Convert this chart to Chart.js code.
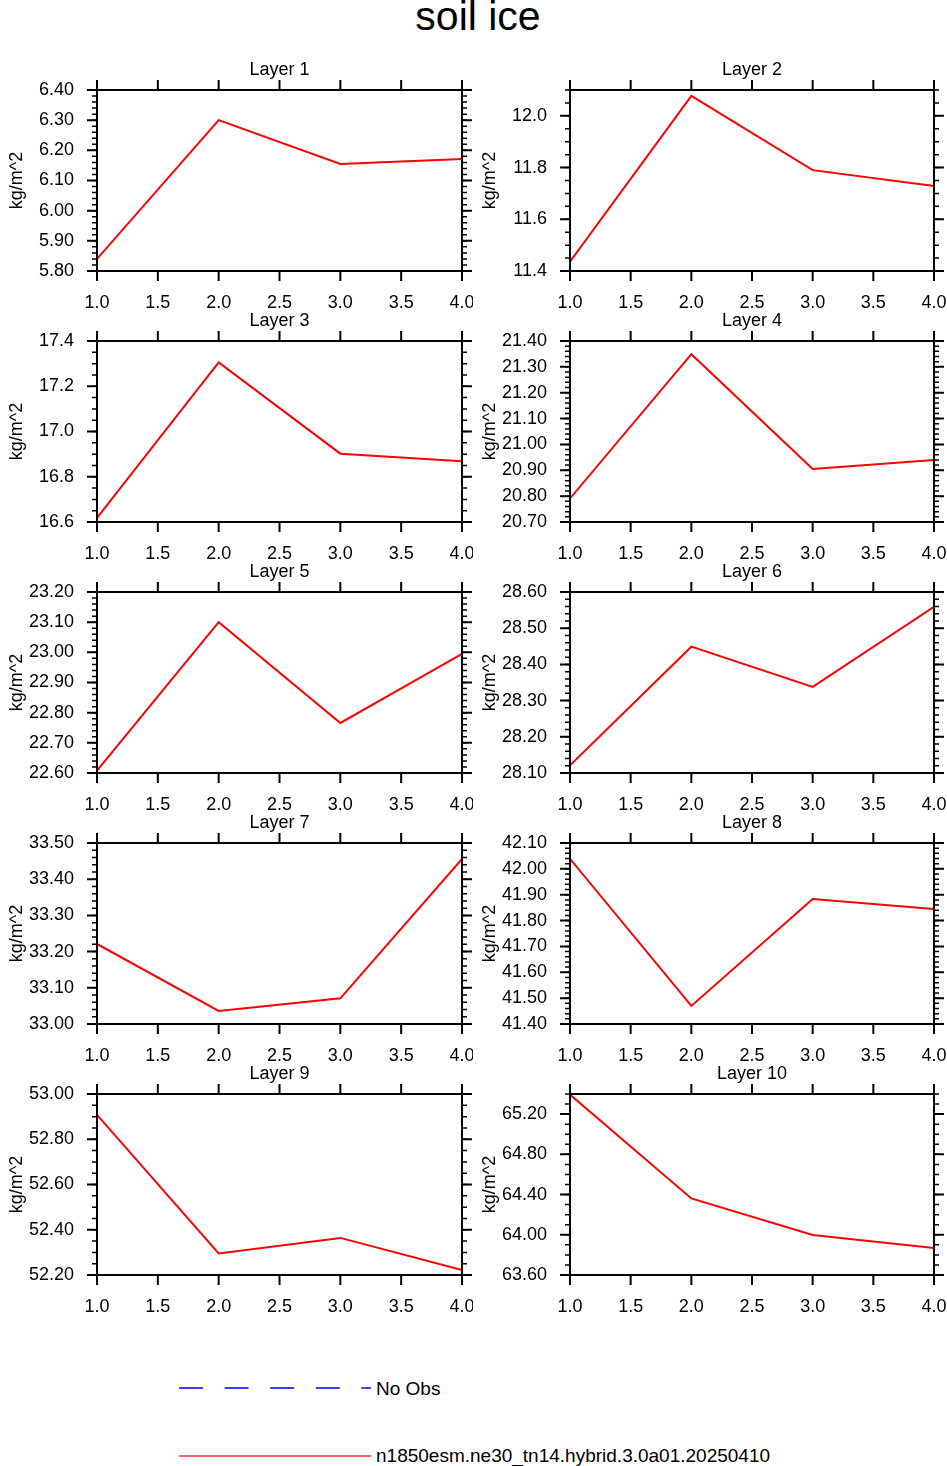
<!DOCTYPE html>
<html>
<head>
<meta charset="utf-8">
<title>soil ice</title>
<script src="https://cdn.jsdelivr.net/npm/chart.js@4/dist/chart.umd.min.js"></script>
<style>
  html, body { margin: 0; padding: 0; background: #fff; }
  body { position: relative; width: 947px; height: 1466px; overflow: hidden;
         font-family: "Liberation Sans", Arial, Helvetica, sans-serif; }
  #mainTitle { position: absolute; left: 0; top: -4px; width: 956px; text-align: center;
               font-size: 41px; line-height: 41px; color: #000; }
  canvas { position: absolute; }
  #legend { position: absolute; left: 0; top: 1360px; overflow: visible; }
</style>
</head>
<body>
<div id="mainTitle">soil ice</div>
<div id="panels"></div>
<svg id="legend" width="947" height="106">
  <line x1="179" y1="28" x2="371" y2="28" stroke="#3c3cff" stroke-width="2" stroke-dasharray="24 21.6"/>
  <text x="376" y="28" dominant-baseline="central" font-size="19" font-family="Liberation Sans, Arial, sans-serif">No Obs</text>
  <line x1="179" y1="96" x2="371" y2="96" stroke="#ff3030" stroke-width="1.5"/>
  <text x="376" y="95" dominant-baseline="central" font-size="19" font-family="Liberation Sans, Arial, sans-serif">n1850esm.ne30_tn14.hybrid.3.0a01.20250410</text>
</svg>
<script>
// soil ice - 10 lớp, mỗi lớp một biểu đồ

const xValues = [1, 2, 3, 4];
const xTicks = [1.0, 1.5, 2.0, 2.5, 3.0, 3.5, 4.0];
const layerTitles = ['Layer 1', 'Layer 2', 'Layer 3', 'Layer 4', 'Layer 5',
                     'Layer 6', 'Layer 7', 'Layer 8', 'Layer 9', 'Layer 10'];

// giá trị (kg/m^2)
const layer1 = [5.840, 6.300, 6.155, 6.171];
const layer2 = [11.436, 12.077, 11.790, 11.729];
const layer3 = [16.618, 17.305, 16.902, 16.868];
const layer4 = [20.791, 21.349, 20.905, 20.940];
const layer5 = [22.608, 23.100, 22.766, 22.995];
const layer6 = [28.121, 28.449, 28.338, 28.559];
const layer7 = [33.221, 33.036, 33.071, 33.456];
const layer8 = [42.039, 41.470, 41.883, 41.845];
const layer9 = [52.908, 52.295, 52.364, 52.222];
const layer10 = [65.394, 64.361, 63.997, 63.869];
const layerValues = [layer1, layer2, layer3, layer4, layer5,
                     layer6, layer7, layer8, layer9, layer10];

// nhãn trục y
const yTicks1 = [5.80, 5.90, 6.00, 6.10, 6.20, 6.30, 6.40];
const yTicks2 = [11.4, 11.6, 11.8, 12.0];
const yTicks3 = [16.6, 16.8, 17.0, 17.2, 17.4];
const yTicks4 = [20.70, 20.80, 20.90, 21.00, 21.10, 21.20, 21.30, 21.40];
const yTicks5 = [22.60, 22.70, 22.80, 22.90, 23.00, 23.10, 23.20];
const yTicks6 = [28.10, 28.20, 28.30, 28.40, 28.50, 28.60];
const yTicks7 = [33.00, 33.10, 33.20, 33.30, 33.40, 33.50];
const yTicks8 = [41.40, 41.50, 41.60, 41.70, 41.80, 41.90, 42.00, 42.10];
const yTicks9 = [52.20, 52.40, 52.60, 52.80, 53.00];
const yTicks10 = [63.60, 64.00, 64.40, 64.80, 65.20];
const layerTicks = [yTicks1, yTicks2, yTicks3, yTicks4, yTicks5,
                    yTicks6, yTicks7, yTicks8, yTicks9, yTicks10];

const yMin = [5.80, 11.4, 16.6, 20.70, 22.60, 28.10, 33.00, 41.40, 52.20, 63.60];
const yMax = [6.40, 12.1, 17.4, 21.40, 23.20, 28.60, 33.50, 42.10, 53.00, 65.40];
const yMinorStep = [0.02, 0.05, 0.05, 0.02, 0.02, 0.02, 0.02, 0.02, 0.05, 0.1];
const yDecimals = [2, 1, 1, 2, 2, 2, 2, 2, 2, 2];

Chart.defaults.font.family = '"Liberation Sans", Arial, Helvetica, sans-serif';
Chart.defaults.color = '#000';

const FONT = { size: 18, weight: 'normal' };

// vẽ khung và vạch chia (chính + phụ) hướng ra ngoài
const boxTicks = {
    id: 'boxTicks',
    afterDraw(chart, args, opts) {
        const { ctx, chartArea: a, scales: { x, y } } = chart;
        ctx.save();
        ctx.strokeStyle = '#000';
        ctx.lineCap = 'butt';

        // vạch phụ trục y
        ctx.lineWidth = 1.5;
        ctx.beginPath();
        const n = Math.round((y.max - y.min) / opts.minor);
        for (let i = 0; i <= n; i++) {
            const py = y.getPixelForValue(y.min + i * opts.minor);
            ctx.moveTo(a.left, py); ctx.lineTo(a.left - 5, py);
            ctx.moveTo(a.right, py); ctx.lineTo(a.right + 5, py);
        }
        ctx.stroke();

        // vạch chính
        ctx.lineWidth = 2;
        ctx.beginPath();
        y.ticks.forEach(t => {
            const py = y.getPixelForValue(t.value);
            ctx.moveTo(a.left, py); ctx.lineTo(a.left - 10, py);
            ctx.moveTo(a.right, py); ctx.lineTo(a.right + 10, py);
        });
        x.ticks.forEach(t => {
            const px = x.getPixelForValue(t.value);
            ctx.moveTo(px, a.bottom); ctx.lineTo(px, a.bottom + 10);
            ctx.moveTo(px, a.top); ctx.lineTo(px, a.top - 10);
        });
        ctx.stroke();

        ctx.strokeRect(a.left, a.top, a.right - a.left, a.bottom - a.top);
        ctx.restore();
    }
};

const rowTops = [90, 341, 592, 843, 1094];
const PLOT_H = 181;
const TOP_SPACE = 34;
const BOTTOM_SPACE = 40;

function initLayerChart(i) {
    const row = Math.floor(i / 2);
    const col = i % 2;
    const canvas = document.createElement('canvas');
    const left = col === 0 ? 0 : 473;
    const width = col === 0 ? 473 : 474;
    const height = TOP_SPACE + PLOT_H + BOTTOM_SPACE;
    canvas.width = width;
    canvas.height = height;
    canvas.style.left = left + 'px';
    canvas.style.top = (rowTops[row] - TOP_SPACE) + 'px';
    canvas.style.width = width + 'px';
    canvas.style.height = height + 'px';
    document.getElementById('panels').appendChild(canvas);

    const vals = layerValues[i];
    const ticks = layerTicks[i];
    const dec = yDecimals[i];

    new Chart(canvas, {
        type: 'line',
        data: {
            datasets: [{
                data: xValues.map((x, k) => ({ x: x, y: vals[k] })),
                borderColor: '#ff0000',
                borderWidth: 2,
                pointRadius: 0,
                tension: 0
            }]
        },
        options: {
            responsive: false,
            animation: false,
            devicePixelRatio: 1,
            layout: { padding: { left: 0, right: col === 0 ? 11 : 13, top: 0, bottom: 0 } },
            plugins: {
                legend: { display: false },
                tooltip: { enabled: false },
                title: {
                    display: true,
                    fullSize: false,
                    text: layerTitles[i],
                    color: '#000',
                    font: FONT,
                    padding: { top: 3, bottom: TOP_SPACE - 3 - 21.6 }
                },
                boxTicks: { minor: yMinorStep[i] }
            },
            scales: {
                x: {
                    type: 'linear',
                    min: 1,
                    max: 4,
                    grid: { display: false, drawTicks: false },
                    border: { display: false },
                    ticks: { font: FONT, padding: 21, maxRotation: 0, callback: v => v.toFixed(1) },
                    afterBuildTicks: s => { s.ticks = xTicks.map(v => ({ value: v })); },
                    afterFit: s => { s.height = BOTTOM_SPACE; s.paddingLeft = 0; s.paddingRight = 0; }
                },
                y: {
                    type: 'linear',
                    min: yMin[i],
                    max: yMax[i],
                    grid: { display: false, drawTicks: false },
                    border: { display: false },
                    ticks: { font: FONT, padding: 23, callback: v => v.toFixed(dec) },
                    title: { display: true, text: 'kg/m^2', font: FONT, padding: { top: 6, bottom: 0 } },
                    afterBuildTicks: s => { s.ticks = ticks.map(v => ({ value: v })); },
                    afterFit: s => { s.width = 97; s.paddingTop = 0; s.paddingBottom = 0; }
                }
            }
        },
        plugins: [boxTicks]
    });
}

document.addEventListener('DOMContentLoaded', function() {
    for (let i = 0; i < layerTitles.length; i++) {
        initLayerChart(i);
    }
});
</script>
</body>
</html>
